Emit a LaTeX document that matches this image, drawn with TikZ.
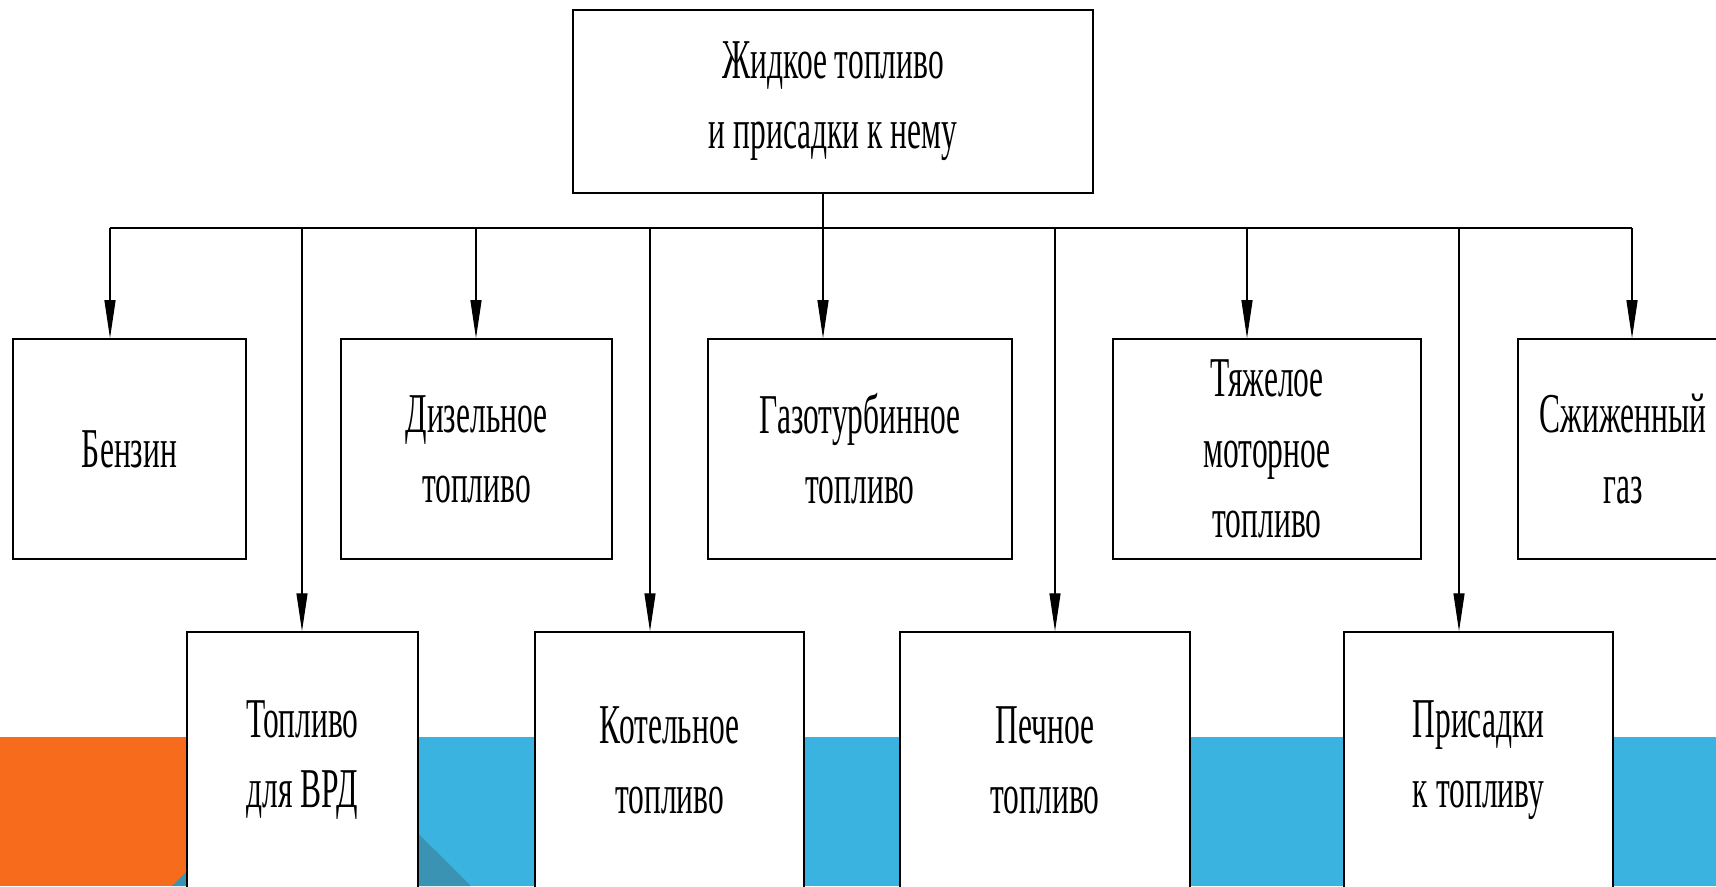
\documentclass[tikz,border=0pt]{standalone}
\usepackage{fontspec}
\setmainfont{Liberation Serif}
\newfontfamily\condfont[FakeStretch=0.56]{Liberation Serif}
\usetikzlibrary{arrows.meta}
\definecolor{slideorange}{HTML}{F76B1C}
\definecolor{slideblue}{HTML}{3AB3E0}
\definecolor{slideteal}{HTML}{3A93B3}
\tikzset{
  fuelbox/.style={draw,fill=white,line width=0.9pt,align=center,inner sep=0pt,
    font=\condfont\fontsize{32}{40}\selectfont},
  drop/.style={-{Triangle[length=0.76cm,width=0.22cm]},line width=0.7pt},
}
\begin{document}
\begin{tikzpicture}[x=0.02cm,y=-0.02cm]
  \useasboundingbox (0,0) rectangle (1716,886);
  \clip (0,0) rectangle (1716,886);
  % slide background
  \fill[slideorange] (0,737) rectangle (321,886);
  \fill[slideblue] (321,737) rectangle (1716,886);
  \fill[slideteal] (172,886) -- (321,737) -- (471,886) -- cycle;

  \node[fuelbox,minimum width=10.4cm,minimum height=3.66cm](top) at(833,101.5) {Жидкое топливо\\и присадки к нему};

  \node[fuelbox,minimum width=4.66cm,minimum height=4.4cm](benzin) at(129.5,449) {Бензин};
  \node[fuelbox,minimum width=5.42cm,minimum height=4.4cm](dizel) at(476.5,449) {Дизельное\\топливо};
  \node[fuelbox,minimum width=6.08cm,minimum height=4.4cm](gazturb) at(860,449) {Газотурбинное\\топливо};
  \node[fuelbox,minimum width=6.16cm,minimum height=4.4cm](tyazh) at(1267,449) {Тяжелое\\моторное\\топливо};
  \node[fuelbox,minimum width=4.2cm,minimum height=4.4cm](szhizh) at(1623,449) {Сжиженный\\газ};

  \node[fuelbox,minimum width=4.62cm,minimum height=5.12cm](vrd) at(302.5,760) {Топливо\\для ВРД};
  \node[fuelbox,minimum width=5.38cm,minimum height=5.12cm](kotel) at(669.5,760) {Котельное\\топливо};
  \node[fuelbox,minimum width=5.8cm,minimum height=5.12cm](pechn) at(1045,760) {Печное\\топливо};
  \node[fuelbox,minimum width=5.38cm,minimum height=5.12cm](prisad) at(1478.5,760) {Присадки\\к топливу};

  % bus points
  \foreach \n/\x in {b1/110,b2/302,b3/476,b4/650,b5/823,b6/1055,b7/1247,b8/1459,b9/1632}{
    \coordinate (\n) at (\x,228);
  }
  \draw[line width=0.9pt] (b1)--(b9);
  \draw[line width=0.7pt] (top.south -| b5)--(b5);

  \foreach \x/\y in {b1/benzin, b2/vrd, b3/dizel, b4/kotel, b5/gazturb,
    b6/pechn, b7/tyazh, b8/prisad, b9/szhizh%
  }{
    \draw[drop](\x)--(\x |- \y.north);
  }
\end{tikzpicture}
\end{document}
